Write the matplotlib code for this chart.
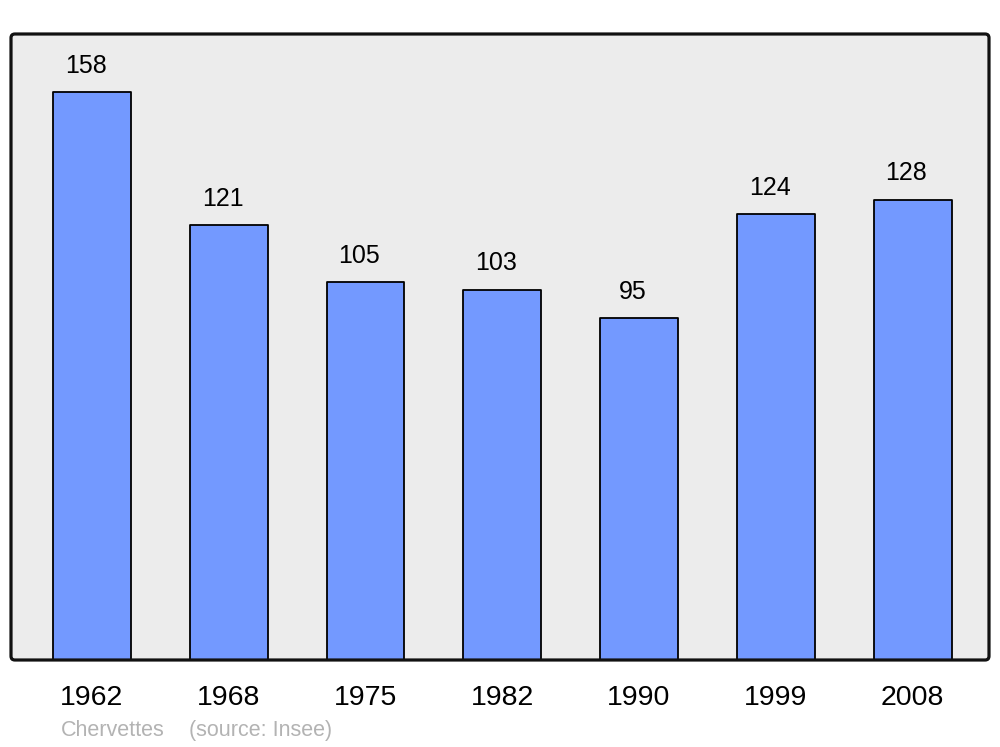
import matplotlib
matplotlib.use('Agg')
import matplotlib.pyplot as plt
from matplotlib.patches import FancyBboxPatch

years = ['1962', '1968', '1975', '1982', '1990', '1999', '2008']
population = [158, 121, 105, 103, 95, 124, 128]

plt.rcParams['font.family'] = ['Liberation Sans', 'DejaVu Sans']

fig = plt.figure(figsize=(10, 7.47), dpi=100)
ax = fig.add_axes([0.011, 1 - 660 / 747, 0.978, 626 / 747])
ax.set_facecolor('#ececec')

x = range(len(years))
bars = ax.bar(x, population, width=0.57, color='#7399ff',
              edgecolor='black', linewidth=1.3, joinstyle='round')

for xi, v in zip(x, population):
    ax.annotate(str(v), (xi, v), xytext=(-4.5, 19), textcoords='offset points',
                ha='center', va='center', fontsize=18)

ax.set_xlim(-0.592, 6.559)
ax.set_ylim(0, 174.1)
ax.set_yticks([])
ax.set_xticks(list(x))
ax.set_xticklabels(years, fontsize=20.5)
ax.tick_params(axis='x', length=0, pad=18)
for s in ax.spines.values():
    s.set_visible(False)

# rounded frame
frame = FancyBboxPatch((0, 0), 1, 1, transform=ax.transAxes,
                       boxstyle='round,pad=0,rounding_size=0.004',
                       mutation_aspect=978 / 626, fill=False,
                       edgecolor='#111111', linewidth=2.3, clip_on=False,
                       zorder=5)
ax.add_patch(frame)

fig.text(0.061, 1 - 736 / 747, 'Chervettes', color='#b3b3b3', fontsize=15.5,
         va='baseline', ha='left')
fig.text(0.189, 1 - 736 / 747, '(source: Insee)', color='#b3b3b3',
         fontsize=15.5, va='baseline', ha='left')

fig.savefig('out.png', dpi=100)
